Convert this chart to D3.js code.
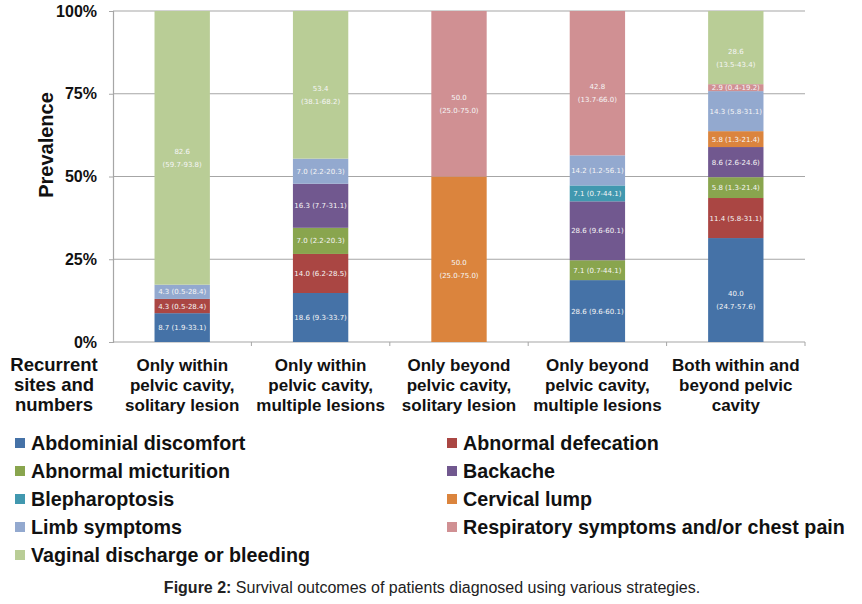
<!DOCTYPE html>
<html>
<head>
<meta charset="utf-8">
<script src="https://cdn.jsdelivr.net/npm/d3@7"></script>
<style>
body { margin: 0; background: #fff; }
svg { display: block; font-family: "Liberation Sans", Arial, sans-serif; }
</style>
</head>
<body>
<script>
var categories = ["within-solitary", "within-multiple", "beyond-solitary", "beyond-multiple", "both"];
var categoryLines = [
    ["Only within", "pelvic cavity,", "solitary lesion"],
    ["Only within", "pelvic cavity,", "multiple lesions"],
    ["Only beyond", "pelvic cavity,", "solitary lesion"],
    ["Only beyond", "pelvic cavity,", "multiple lesions"],
    ["Both within and", "beyond pelvic", "cavity"]
];
var symptoms = ["Abdominial discomfort", "Abnormal defecation", "Abnormal micturition", "Backache",
    "Blepharoptosis", "Cervical lump", "Limb symptoms", "Respiratory symptoms and/or chest pain",
    "Vaginal discharge or bleeding"];
var colours = ["#4572A7", "#AA4643", "#89A54E", "#71588F", "#4198AF", "#DB843D", "#93A9CF", "#D09093", "#B9CD96"];
var yTicks = [0, 0.25, 0.5, 0.75, 1];

// share of each bar (%) as drawn, symptoms in the order above
var withinSolitary = [8.7, 4.3, 0, 0, 0, 0, 4.3, 0, 82.6];
var withinMultiple = [14.8, 11.8, 7.9, 13.3, 0, 0, 7.6, 0, 44.6];
var beyondSolitary = [0, 0, 0, 0, 0, 50.0, 0, 50.0, 0];
var beyondMultiple = [18.7, 0, 6.0, 17.8, 4.8, 0, 9.1, 43.6, 0];
var bothSites = [31.4, 12.1, 6.3, 9.1, 0, 4.8, 12.1, 2.1, 22.1];

// printed prevalence (95% CI)
var labelsWithinSolitary = ["8.7 (1.9-33.1)", "4.3 (0.5-28.4)", "", "", "", "", "4.3 (0.5-28.4)", "", "82.6 (59.7-93.8)"];
var labelsWithinMultiple = ["18.6 (9.3-33.7)", "14.0 (6.2-28.5)", "7.0 (2.2-20.3)", "16.3 (7.7-31.1)", "", "", "7.0 (2.2-20.3)", "", "53.4 (38.1-68.2)"];
var labelsBeyondSolitary = ["", "", "", "", "", "50.0 (25.0-75.0)", "", "50.0 (25.0-75.0)", ""];
var labelsBeyondMultiple = ["28.6 (9.6-60.1)", "", "7.1 (0.7-44.1)", "28.6 (9.6-60.1)", "7.1 (0.7-44.1)", "", "14.2 (1.2-56.1)", "42.8 (13.7-66.0)", ""];
var labelsBothSites = ["40.0 (24.7-57.6)", "11.4 (5.8-31.1)", "5.8 (1.3-21.4)", "8.6 (2.6-24.6)", "", "5.8 (1.3-21.4)", "14.3 (5.8-31.1)", "2.9 (0.4-19.2)", "28.6 (13.5-43.4)"];

var shares = [withinSolitary, withinMultiple, beyondSolitary, beyondMultiple, bothSites];
var labels = [labelsWithinSolitary, labelsWithinMultiple, labelsBeyondSolitary, labelsBeyondMultiple, labelsBothSites];

var rows = categories.map(function(c, i) {
    var row = {category: c, index: i};
    symptoms.forEach(function(s, j) { row[s] = shares[i][j]; });
    return row;
});

var width = 862, height = 604;
var plotLeft = 113, plotRight = 805, plotTop = 11, plotBottom = 342;

var svg = d3.select("body").append("svg")
    .attr("width", width)
    .attr("height", height);

var x = d3.scaleBand().domain(categories).range([plotLeft, plotRight]).paddingInner(0.6).paddingOuter(0.3);
var xb = d3.scaleBand().domain(categories).range([plotLeft, plotRight]);
var y = d3.scaleLinear().domain([0, 1]).range([plotBottom, plotTop]);
var colour = d3.scaleOrdinal().domain(symptoms).range(colours);

// grid
svg.append("g").selectAll("line")
    .data(yTicks)
    .enter().append("line")
    .attr("x1", plotLeft).attr("x2", plotRight)
    .attr("y1", function(d) { return y(d); })
    .attr("y2", function(d) { return y(d); })
    .attr("stroke", "#a6a6a6")
    .attr("stroke-width", 1.2);

var stack = d3.stack().keys(symptoms).offset(d3.stackOffsetExpand);
var layers = stack(rows);

var layer = svg.append("g").selectAll("g")
    .data(layers)
    .enter().append("g")
    .attr("fill", function(d) { return colour(d.key); });

layer.selectAll("rect")
    .data(function(d) { return d; })
    .enter().append("rect")
    .attr("x", function(d) { return x(d.data.category); })
    .attr("width", x.bandwidth())
    .attr("y", function(d) { return y(d[1]); })
    .attr("height", function(d) { return y(d[0]) - y(d[1]); });

// value labels
layers.forEach(function(l, j) {
    l.forEach(function(d) {
        var txt = labels[d.data.index][j];
        if (!txt) return;
        var cx = x(d.data.category) + x.bandwidth() / 2;
        var cy = (y(d[0]) + y(d[1])) / 2;
        var t = svg.append("text")
            .attr("text-anchor", "middle")
            .attr("font-family", "DejaVu Sans, sans-serif")
            .attr("font-size", "7px")
            .attr("fill", "#f6f6f6");
        if (txt.length > 15) {
            var parts = txt.split(" ");
            t.append("tspan").attr("x", cx).attr("y", cy + 6).text(parts[0]);
            t.append("tspan").attr("x", cx).attr("y", cy + 19).text(parts[1]);
        } else {
            t.attr("x", cx).attr("y", cy + 2.5).text(txt);
        }
    });
});

// y axis
var yAxis = svg.append("g")
    .attr("transform", "translate(" + plotLeft + ",0)")
    .call(d3.axisLeft(y).tickValues(yTicks).tickSize(4).tickPadding(12).tickFormat(d3.format(".0%")));
yAxis.select(".domain").attr("stroke", "#a6a6a6").attr("stroke-width", 1.2);
yAxis.selectAll(".tick line").attr("stroke", "#a6a6a6");
yAxis.selectAll(".tick text")
    .attr("font-family", "Liberation Sans, Arial, sans-serif")
    .attr("font-size", "16px")
    .attr("font-weight", "bold")
    .attr("fill", "#111");

// x axis ticks at band edges
var xAxis = svg.append("g")
    .attr("transform", "translate(0," + plotBottom + ")")
    .call(d3.axisBottom(xb).tickSize(0).tickFormat(""));
xAxis.select(".domain").remove();
xAxis.selectAll("line.edge")
    .data(categories)
    .enter().append("line")
    .attr("class", "edge")
    .attr("x1", function(d) { return xb(d) + xb.bandwidth(); })
    .attr("x2", function(d) { return xb(d) + xb.bandwidth(); })
    .attr("y1", 0).attr("y2", 4)
    .attr("stroke", "#a6a6a6");

xAxis.selectAll(".tick text").remove();
xAxis.selectAll(".tick").each(function(d, i) {
    var t = d3.select(this).append("text")
        .attr("text-anchor", "middle")
        .attr("font-size", "17px")
        .attr("font-weight", "bold")
        .attr("fill", "#111");
    categoryLines[i].forEach(function(line, k) {
        t.append("tspan").attr("x", 0).attr("y", 29 + k * 20).text(line);
    });
});

// axis title and row label
svg.append("text")
    .attr("transform", "translate(53,145) rotate(-90)")
    .attr("text-anchor", "middle")
    .attr("font-size", "20px")
    .attr("font-weight", "bold")
    .attr("fill", "#111")
    .text("Prevalence");

var rowLabel = svg.append("text")
    .attr("text-anchor", "middle")
    .attr("font-size", "18.5px")
    .attr("font-weight", "bold")
    .attr("fill", "#111");
["Recurrent", "sites and", "numbers"].forEach(function(line, k) {
    rowLabel.append("tspan").attr("x", 54).attr("y", 371 + k * 20).text(line);
});

// legend
var legend = svg.append("g").selectAll("g")
    .data(symptoms)
    .enter().append("g")
    .attr("transform", function(d, i) {
        var col = i % 2, row = Math.floor(i / 2);
        return "translate(" + (col ? 447 : 15) + "," + (443 + row * 28) + ")";
    });
legend.append("rect")
    .attr("x", 0).attr("y", -5)
    .attr("width", 10).attr("height", 10)
    .attr("fill", function(d) { return colour(d); });
legend.append("text")
    .attr("x", 16).attr("y", 7)
    .attr("font-size", "19.7px")
    .attr("font-weight", "bold")
    .attr("fill", "#111")
    .text(function(d) { return d; });

// caption
var caption = svg.append("text")
    .attr("x", 432).attr("y", 593)
    .attr("text-anchor", "middle")
    .attr("font-size", "16px")
    .attr("fill", "#222");
caption.append("tspan").attr("font-weight", "bold").text("Figure 2:");
caption.append("tspan").text(" Survival outcomes of patients diagnosed using various strategies.");
</script>
</body>
</html>
